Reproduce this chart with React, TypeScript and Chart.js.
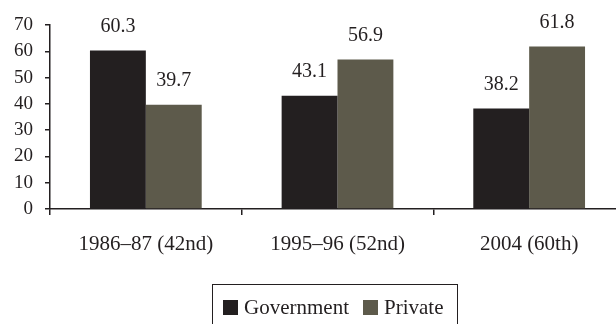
import React, { useEffect, useRef } from "react";
import { Chart, registerables } from "chart.js";

Chart.register(...registerables);

const categories = ["1986–87 (42nd)", "1995–96 (52nd)", "2004 (60th)"];
const governmentShare = [60.3, 43.1, 38.2];
const privateShare = [39.7, 56.9, 61.8];
const seriesNames = ["Government", "Private"];
const seriesColors = ["#231f20", "#5d5a4b"];

const FONT = "'Liberation Serif', 'DejaVu Serif', serif";

// Writes each bar's value centred above it
const valueLabels = {
  id: "valueLabels",
  afterDatasetsDraw(chart: any) {
    const ctx = chart.ctx;
    ctx.save();
    ctx.font = `20px ${FONT}`;
    ctx.fillStyle = "#231f20";
    ctx.textAlign = "center";
    ctx.textBaseline = "bottom";
    chart.data.datasets.forEach((ds: any, i: number) => {
      const meta = chart.getDatasetMeta(i);
      meta.data.forEach((bar: any, j: number) => {
        ctx.fillText(String(ds.data[j].toFixed(1)), bar.x, bar.y - 14);
      });
    });
    ctx.restore();
  },
};

export default function App() {
  const canvasRef = useRef<HTMLCanvasElement | null>(null);

  useEffect(() => {
    if (!canvasRef.current) return;
    const chart = new Chart(canvasRef.current, {
      type: "bar",
      data: {
        labels: categories,
        datasets: [
          { label: seriesNames[0], data: governmentShare, backgroundColor: seriesColors[0] },
          { label: seriesNames[1], data: privateShare, backgroundColor: seriesColors[1] },
        ],
      },
      options: {
        animation: false,
        responsive: false,
        maintainAspectRatio: false,
        events: [],
        layout: { padding: { top: 25, right: 15, bottom: 0, left: 0 } },
        datasets: {
          bar: { categoryPercentage: 0.583, barPercentage: 1.0 },
        },
        plugins: {
          legend: { display: false },
          tooltip: { enabled: false },
        },
        scales: {
          x: {
            afterFit: (scale: any) => {
              scale.height = 115;
            },
            grid: {
              display: true,
              drawOnChartArea: false,
              tickLength: 6,
              color: "#231f20",
              lineWidth: 1.5,
            },
            border: { display: true, color: "#231f20", width: 1.5 },
            ticks: {
              color: "#231f20",
              font: { family: FONT, size: 21 },
              padding: 17,
              maxRotation: 0,
            },
          },
          y: {
            min: 0,
            max: 70,
            afterFit: (scale: any) => {
              scale.width = 50;
            },
            grid: {
              display: true,
              drawOnChartArea: false,
              tickLength: 5,
              color: "#231f20",
              lineWidth: 1.5,
            },
            border: { display: true, color: "#231f20", width: 1.5 },
            ticks: {
              stepSize: 10,
              color: "#231f20",
              font: { family: FONT, size: 19 },
              padding: 12,
            },
          },
        },
      },
      plugins: [valueLabels],
    });
    return () => chart.destroy();
  }, []);

  return (
    <div style={{ position: "relative", width: 616, height: 324, overflow: "hidden" }}>
      <style>{`html,body{margin:0;padding:0;overflow:hidden;background:#fff}`}</style>
      <canvas ref={canvasRef} width={640} height={324} style={{ display: "block" }} />
      <div
        style={{
          position: "absolute",
          left: 212,
          top: 284,
          width: 246,
          height: 60,
          border: "1.5px solid #231f20",
          boxSizing: "border-box",
          fontFamily: FONT,
          fontSize: 21,
          color: "#231f20",
          display: "flex",
          alignItems: "flex-start",
          paddingTop: 10,
          paddingLeft: 10,
        }}
      >
        {seriesNames.map((name, i) => (
          <span key={name} style={{ display: "flex", alignItems: "center", marginRight: 14, lineHeight: "24px" }}>
            <span
              style={{
                display: "inline-block",
                width: 15,
                height: 15,
                background: seriesColors[i],
                marginRight: 6,
              }}
            />
            {name}
          </span>
        ))}
      </div>
    </div>
  );
}
